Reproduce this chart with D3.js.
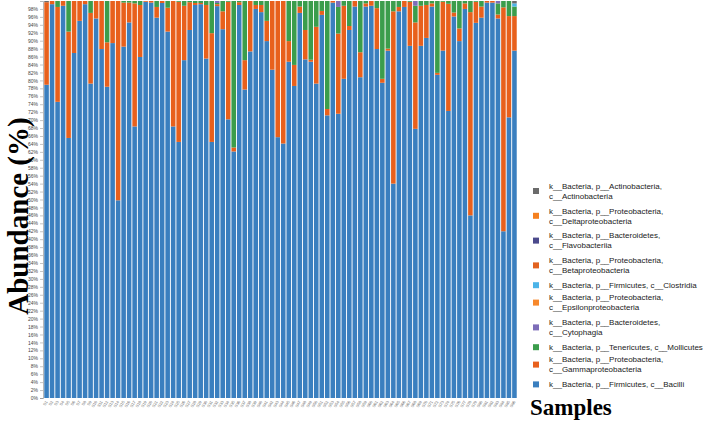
<!DOCTYPE html>
<html>
<head>
    <meta charset="utf-8">
    <script src="https://d3js.org/d3.v7.min.js"></script>
    <style>
        body, html {
            margin: 0;
            background: #fff;
            overflow: hidden;
        }
        .ytick text { font: 5px "Liberation Sans", Arial, sans-serif; fill: #444; }
        .xtick text { font: 4px "Liberation Sans", Arial, sans-serif; fill: #666; }
        .legend text { font: 8px "Liberation Sans", Arial, sans-serif; fill: #222; }
        .title { font-family: "Liberation Serif", "Times New Roman", serif; font-weight: bold; fill: #000; }
    </style>
</head>
<body>
<div id="chart"></div>
<script>
    // sample ids along the x axis
    const samples = d3.range(1, 87).map(i => "S" + i);

    // stacking order, bottom to top
    const taxa = [
        "k__Bacteria, p__Firmicutes, c__Bacilli",
        "k__Bacteria, p__Proteobacteria, c__Gammaproteobacteria",
        "k__Bacteria, p__Tenericutes, c__Mollicutes",
        "k__Bacteria, p__Bacteroidetes, c__Cytophagia",
        "k__Bacteria, p__Proteobacteria, c__Epsilonproteobacteria",
        "k__Bacteria, p__Firmicutes, c__Clostridia",
        "k__Bacteria, p__Proteobacteria, c__Betaproteobacteria",
        "k__Bacteria, p__Bacteroidetes, c__Flavobacteriia",
        "k__Bacteria, p__Proteobacteria, c__Deltaproteobacteria",
        "k__Bacteria, p__Actinobacteria, c__Actinobacteria"
    ];
    // legend lines (as wrapped in the figure)
    const legendLines = [
        ["k__Bacteria, p__Firmicutes, c__Bacilli"],
        ["k__Bacteria, p__Proteobacteria,", "c__Gammaproteobacteria"],
        ["k__Bacteria, p__Tenericutes, c__Mollicutes"],
        ["k__Bacteria, p__Bacteroidetes,", "c__Cytophagia"],
        ["k__Bacteria, p__Proteobacteria,", "c__Epsilonproteobacteria"],
        ["k__Bacteria, p__Firmicutes, c__Clostridia"],
        ["k__Bacteria, p__Proteobacteria,", "c__Betaproteobacteria"],
        ["k__Bacteria, p__Bacteroidetes,", "c__Flavobacteriia"],
        ["k__Bacteria, p__Proteobacteria,", "c__Deltaproteobacteria"],
        ["k__Bacteria, p__Actinobacteria,", "c__Actinobacteria"]
    ];
    const colors = ["#3a7fbf", "#e8601c", "#3b9d4c", "#7d6db8", "#f7882b",
                    "#4cb4e8", "#e2621f", "#4b4a8c", "#f5801f", "#6b6b6b"];

    // relative abundance (%) per sample
    const bacilli = [78.9, 99.2, 74.6, 98.8, 65.5, 86.9, 95.0, 99.2, 79.2, 95.6,
                     87.9, 78.4, 89.4, 49.8, 88.5, 94.6, 68.4, 85.9, 99.8, 99.6,
                     95.8, 99.5, 92.3, 68.4, 64.5, 85.1, 92.7, 99.0, 99.2, 85.5,
                     64.5, 99.2, 92.9, 70.2, 62.1, 99.0, 77.7, 87.3, 98.0, 97.2,
                     89.9, 82.7, 65.7, 64.1, 84.7, 78.6, 97.0, 85.3, 84.7, 79.2,
                     96.5, 71.2, 99.6, 71.6, 80.4, 92.7, 98.6, 80.8, 98.6, 98.8,
                     87.9, 79.4, 87.5, 54.0, 97.4, 98.5, 88.7, 67.8, 88.7, 90.7,
                     98.6, 81.4, 87.5, 72.3, 96.1, 89.9, 98.0, 46.0, 94.5, 95.8,
                     99.6, 99.6, 95.6, 42.0, 70.7, 87.5];
    const gamma = [20.8, 0.8, 23.9, 1.2, 26.8, 13.1, 5.0, 0.8, 17.8, 4.4,
                   12.1, 11.2, 10.6, 50.2, 11.1, 5.0, 31.0, 13.1, 0.2, 0.4,
                   2.7, 0.5, 6.0, 31.6, 35.3, 13.7, 7.0, 0.5, 0.3, 13.5,
                   27.4, 0.5, 4.5, 29.6, 1.0, 0.7, 7.4, 12.7, 1.0, 1.8,
                   5.1, 17.3, 34.3, 35.9, 5.2, 5.3, 1.6, 7.4, 0.5, 14.3,
                   1.0, 1.6, 0.4, 20.2, 18.4, 1.0, 1.4, 6.3, 0.8, 1.2,
                   10.3, 1.0, 0.5, 43.4, 1.1, 1.5, 11.1, 26.8, 10.1, 8.3,
                   0.8, 0.5, 12.3, 27.0, 1.0, 3.2, 1.4, 51.2, 5.3, 2.8,
                   0.4, 0.4, 1.0, 56.4, 25.5, 8.7];
    const mollicutes = [0, 0, 1.5, 0, 7.7, 0, 0, 0, 3.0, 0,
                        0, 10.4, 0, 0, 0.4, 0.4, 0.6, 1.0, 0, 0,
                        1.5, 0, 1.7, 0, 0.2, 1.2, 0.3, 0.5, 0.5, 1.0,
                        8.1, 0.3, 2.6, 0.2, 36.9, 0.3, 14.9, 0, 1.0, 1.0,
                        5.0, 0, 0, 0, 10.1, 16.1, 1.4, 7.3, 14.8, 6.5,
                        2.5, 27.2, 0, 6.7, 1.2, 6.3, 0, 12.9, 0.6, 0,
                        1.8, 19.6, 12.0, 2.6, 1.5, 0, 0.2, 4.2, 1.2, 1.0,
                        0.6, 18.1, 0.2, 0.7, 2.9, 6.9, 0.6, 2.8, 0.2, 1.4,
                        0, 0, 2.8, 1.6, 3.8, 2.4];
    const cytophagia = [0, 0, 0, 0, 0, 0, 0, 0, 0, 0,
                        0, 0, 0, 0, 0, 0, 0, 0, 0, 0,
                        0, 0, 0, 0, 0, 0, 0, 0, 0, 0,
                        0, 0.5, 0, 0, 0, 0, 0, 0, 0, 0,
                        0, 0, 0, 0, 0, 0, 0, 0, 0, 0,
                        0, 0, 0, 1.5, 0, 0, 0, 0, 0, 0,
                        0, 0, 0, 0, 0, 0, 0, 1.2, 0, 0,
                        0, 0, 0, 0, 0, 0, 0, 0, 0, 0,
                        0, 0, 0.6, 0, 0, 0];
    const clostridia = [0, 0, 0, 0, 0, 0, 0, 0, 0, 0,
                        0, 0, 0, 0, 0, 0, 0, 0, 0, 0,
                        0, 0, 0, 0, 0, 0, 0, 0, 0, 0,
                        0, 0, 0, 0, 0, 0, 0, 0, 0, 0,
                        0, 0, 0, 0, 0, 0, 0, 0, 0, 0,
                        0, 0, 0, 0, 0, 0, 0, 0, 0, 0,
                        0, 0, 0, 0, 0, 0, 0, 0, 0, 0,
                        0, 0, 0, 0, 0, 0, 0, 0, 0, 0,
                        0, 0, 0, 0, 0, 0.8];
    const actino = [0.3, 0, 0, 0, 0, 0, 0, 0, 0, 0,
                    0, 0, 0, 0, 0, 0, 0, 0, 0, 0,
                    0, 0, 0, 0, 0, 0, 0, 0, 0, 0,
                    0, 0, 0, 0, 0, 0, 0, 0, 0, 0,
                    0, 0, 0, 0, 0, 0, 0, 0, 0, 0,
                    0, 0, 0, 0, 0, 0, 0, 0, 0, 0,
                    0, 0, 0, 0, 0, 0, 0, 0, 0, 0,
                    0, 0, 0, 0, 0, 0, 0, 0, 0, 0,
                    0, 0, 0, 0, 0, 0.6];
    const yTicks = d3.range(0, 100, 2);

    const width = 709, height = 433;
    const x0 = 44, x1 = 517, yTop = 1, yBottom = 398;

    const rows = samples.map((s, i) => ({
        sample: s,
        [taxa[0]]: bacilli[i], [taxa[1]]: gamma[i], [taxa[2]]: mollicutes[i],
        [taxa[3]]: cytophagia[i], [taxa[4]]: 0, [taxa[5]]: clostridia[i],
        [taxa[6]]: 0, [taxa[7]]: 0, [taxa[8]]: 0, [taxa[9]]: actino[i]
    }));

    const series = d3.stack().keys(taxa).offset(d3.stackOffsetExpand)(rows);

    const x = d3.scaleBand().domain(samples).range([x0, x1]).paddingInner(0.17).paddingOuter(0.05);
    const y = d3.scaleLinear().domain([0, 1]).range([yBottom, yTop]);
    const color = d3.scaleOrdinal().domain(taxa).range(colors);

    const svg = d3.select("#chart").append("svg")
                  .attr("width", width)
                  .attr("height", height);

    svg.append("g")
       .selectAll("g")
       .data(series)
       .join("g")
       .attr("fill", d => color(d.key))
       .selectAll("rect")
       .data(d => d)
       .join("rect")
       .attr("x", d => x(d.data.sample))
       .attr("width", x.bandwidth())
       .attr("y", d => y(d[1]))
       .attr("height", d => y(d[0]) - y(d[1]));

    // y axis
    const yAxis = svg.append("g")
       .attr("class", "ytick")
       .attr("transform", `translate(${x0 - 1},0)`)
       .call(d3.axisLeft(y).tickValues(yTicks.map(v => v / 100))
                .tickFormat(v => Math.round(v * 100) + "%").tickSize(3).tickPadding(2));
    yAxis.select(".domain").attr("stroke", "#888").attr("stroke-width", 0.6);
    yAxis.selectAll("line").attr("stroke", "#888").attr("stroke-width", 0.5);

    // x labels
    svg.append("g")
       .attr("class", "xtick")
       .selectAll("text")
       .data(samples)
       .join("text")
       .attr("transform", d => `translate(${x(d) + x.bandwidth() / 2},${yBottom + 3}) rotate(-60)`)
       .attr("text-anchor", "end")
       .attr("dy", "0.35em")
       .text(d => d);

    // axis titles
    svg.append("text")
       .attr("class", "title")
       .attr("transform", `translate(28,216) rotate(-90)`)
       .attr("text-anchor", "middle")
       .style("font-size", "29px")
       .text("Abundance (%)");

    svg.append("text")
       .attr("class", "title")
       .attr("x", 530)
       .attr("y", 415)
       .style("font-size", "23px")
       .text("Samples");

    // legend, top entry is the top of the stack
    const legend = svg.append("g").attr("class", "legend");
    let cy = 186;
    for (let i = taxa.length - 1; i >= 0; i--) {
        const lines = legendLines[i];
        const item = legend.append("g").attr("transform", `translate(0,${cy})`);
        item.append("rect")
            .attr("x", 533).attr("y", (lines.length - 1) * 5 - 3)
            .attr("width", 6).attr("height", 6)
            .attr("fill", colors[i]);
        item.selectAll("text")
            .data(lines)
            .join("text")
            .attr("x", 549)
            .attr("y", (d, j) => j * 10)
            .attr("dy", "0.35em")
            .text(d => d);
        cy += lines.length * 12.4;
    }
</script>
</body>
</html>
